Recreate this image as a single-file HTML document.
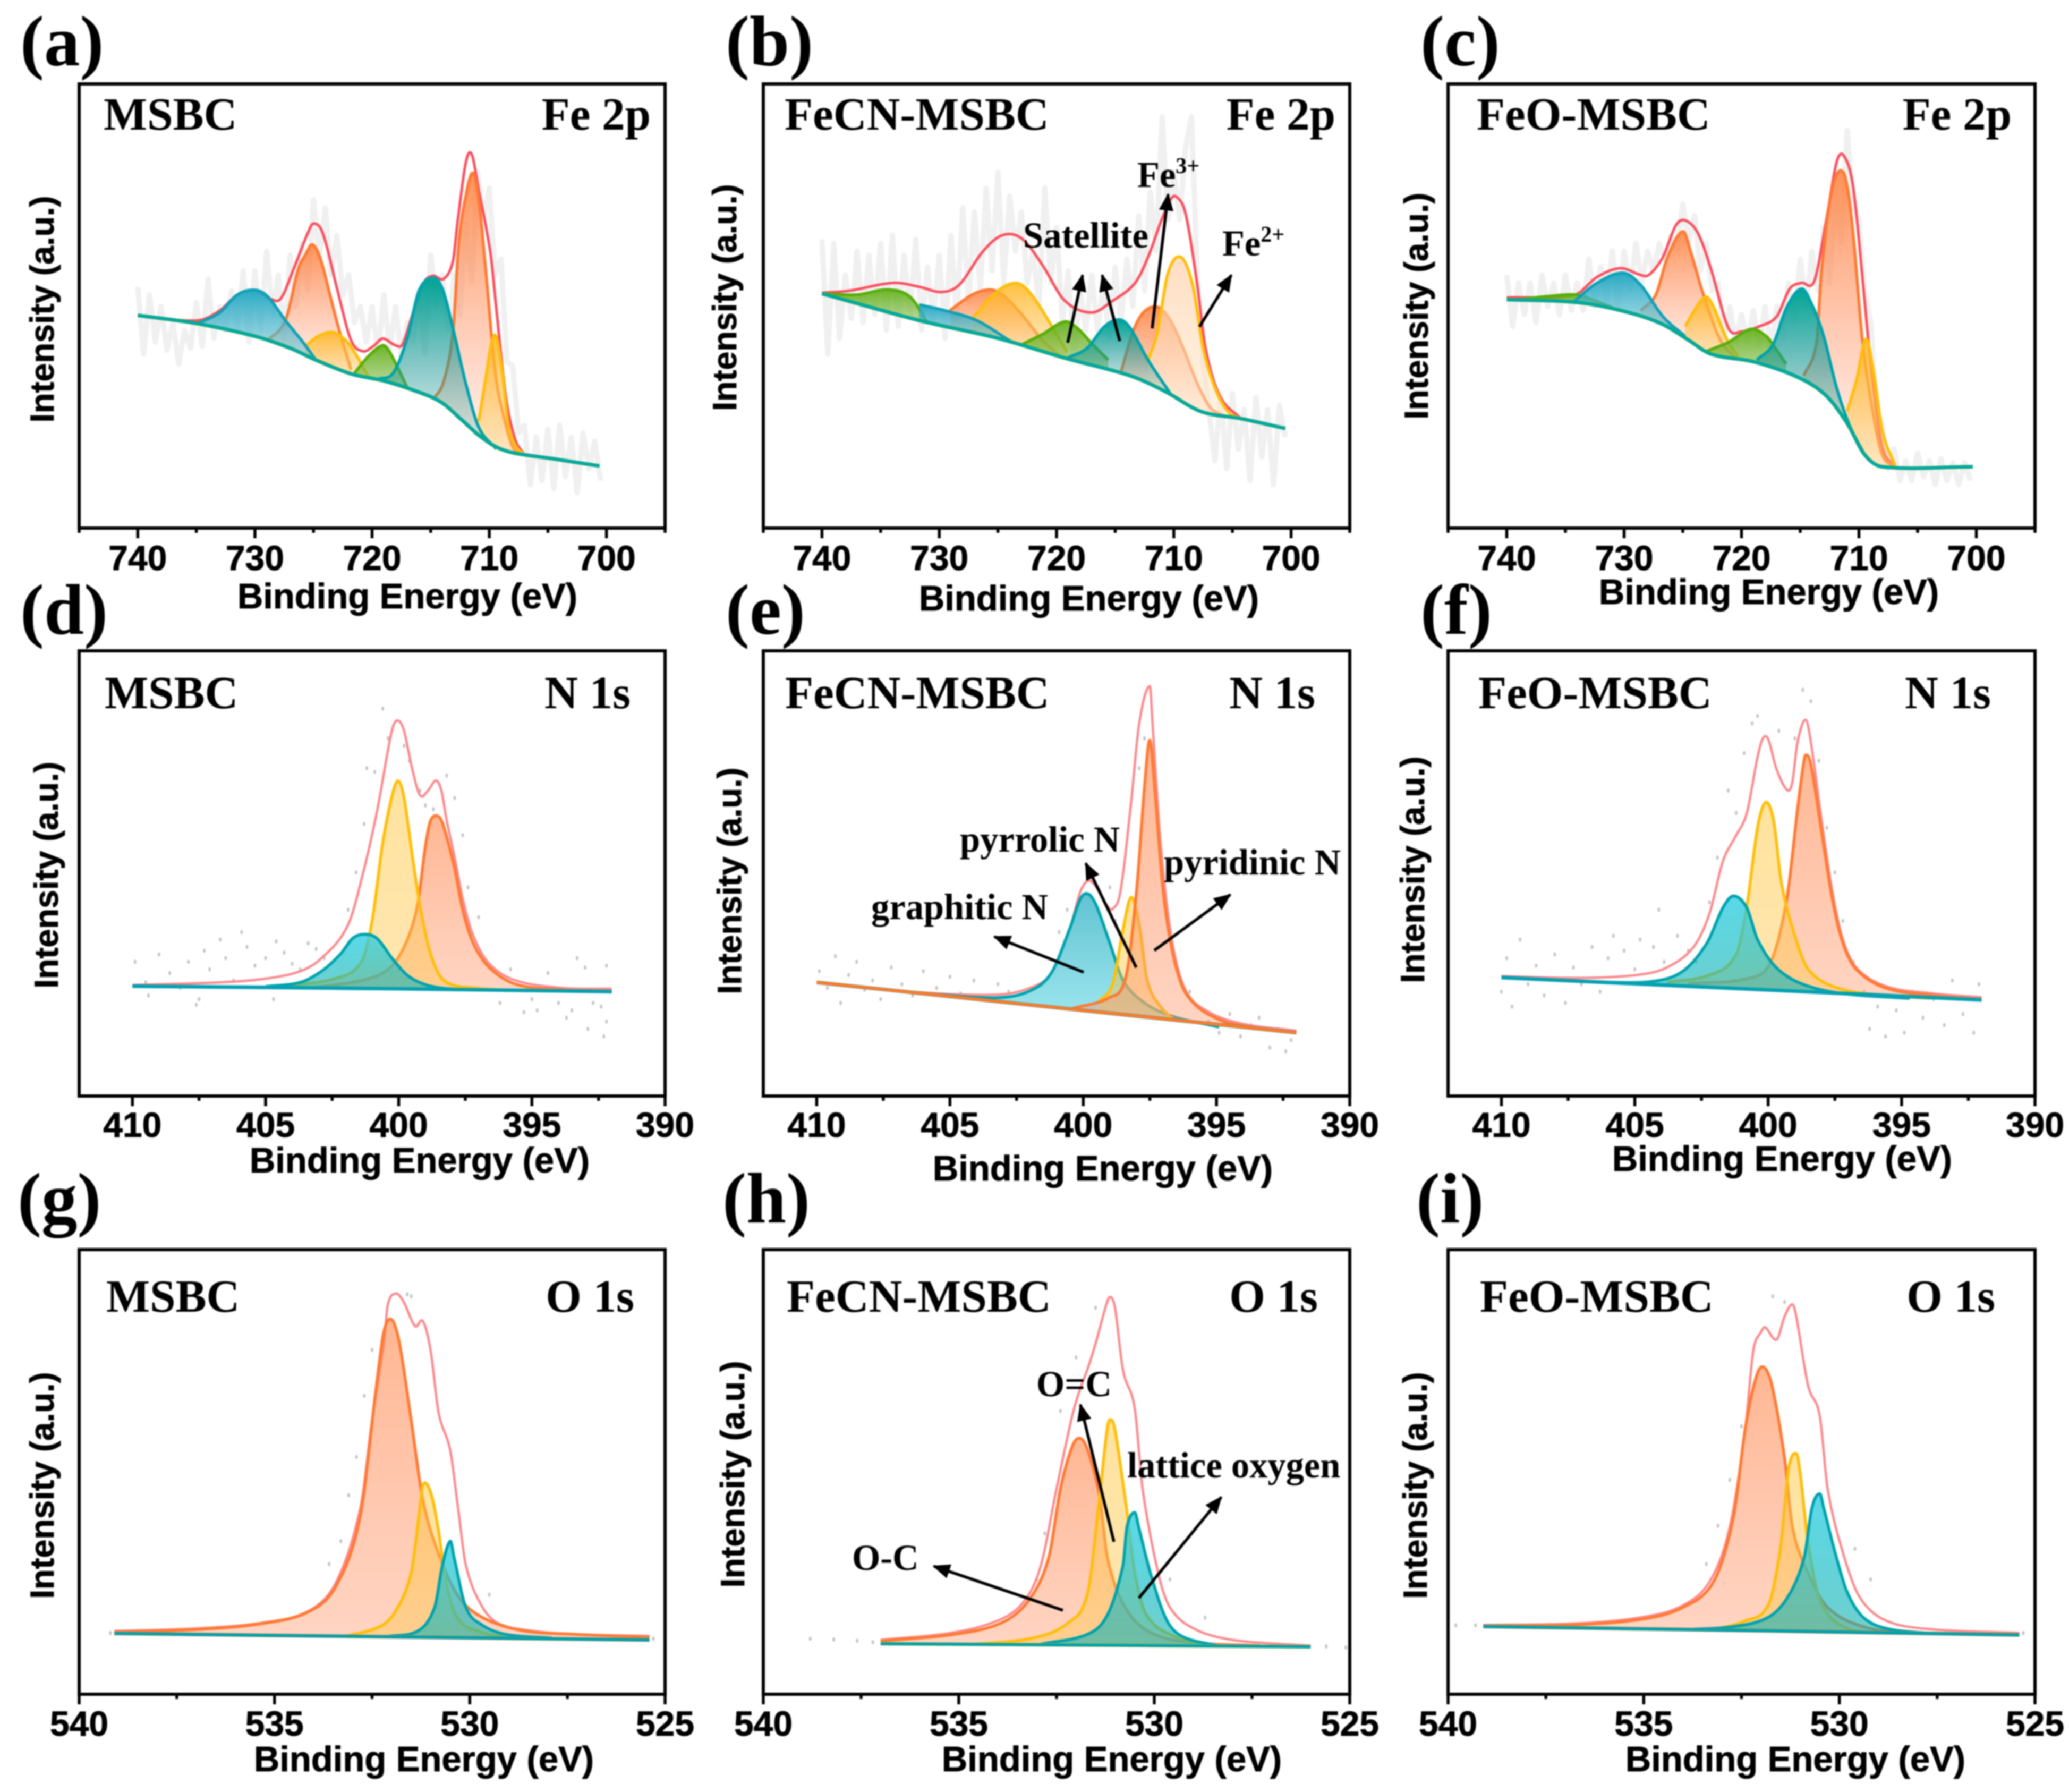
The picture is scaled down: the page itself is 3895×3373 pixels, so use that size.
<!DOCTYPE html>
<html lang="en">
<head>
<meta charset="utf-8">
<title>XPS spectra of MSBC, FeCN-MSBC and FeO-MSBC</title>
<style>
html,body{margin:0;padding:0;background:#fff;}
svg{display:block;filter:blur(1.3px);}
.serif{font-family:"Liberation Serif",serif;font-weight:700;fill:#000;}
.sans{font-family:"Liberation Sans",sans-serif;font-weight:700;fill:#000;stroke:#000;stroke-width:.8;}
.letter{font-size:135px;}
.title{font-size:87px;}
.note{font-size:68.5px;}
.sup{font-size:42px;}
.xlabel{font-size:67px;text-anchor:middle;}
.ylabel{font-size:63px;text-anchor:middle;}
.tick{font-size:66px;text-anchor:middle;}
.frame{fill:none;stroke:#000;stroke-width:6;}
.arrow{stroke:#000;stroke-width:5.5;fill:none;marker-end:url(#arrowhead);}
</style>
</head>
<body>
<svg xmlns="http://www.w3.org/2000/svg" width="3895" height="3373" viewBox="0 0 3895 3373">
<defs>
<marker id="arrowhead" markerUnits="strokeWidth" markerWidth="6" markerHeight="5" refX="5.5" refY="2.5" orient="auto"><path d="M0,0 L6,2.5 L0,5 Z" fill="#000"/></marker>
<linearGradient id="g-orange" x1="0" y1="0" x2="0" y2="1"><stop offset="0" stop-color="#ff7f3a" stop-opacity=".85"/><stop offset="1" stop-color="#ff9a78" stop-opacity=".12"/></linearGradient>
<linearGradient id="g-yellow" x1="0" y1="0" x2="0" y2="1"><stop offset="0" stop-color="#ffb41e" stop-opacity=".85"/><stop offset="1" stop-color="#ffd27a" stop-opacity=".4"/></linearGradient>
<linearGradient id="g-pale" x1="0" y1="0" x2="0" y2="1"><stop offset="0" stop-color="#ffcfa8" stop-opacity=".7"/><stop offset="1" stop-color="#ffe8c8" stop-opacity=".5"/></linearGradient>
<linearGradient id="g-blue" x1="0" y1="0" x2="0" y2="1"><stop offset="0" stop-color="#1ea6c2" stop-opacity=".95"/><stop offset="1" stop-color="#6fc4d4" stop-opacity=".5"/></linearGradient>
<linearGradient id="g-teal" x1="0" y1="0" x2="0" y2="1"><stop offset="0" stop-color="#00a596" stop-opacity="1"/><stop offset=".5" stop-color="#209a98" stop-opacity=".55"/><stop offset="1" stop-color="#4aa8a8" stop-opacity=".15"/></linearGradient>
<linearGradient id="g-green" x1="0" y1="0" x2="0" y2="1"><stop offset="0" stop-color="#5cae10" stop-opacity=".9"/><stop offset="1" stop-color="#8fc060" stop-opacity=".6"/></linearGradient>
<linearGradient id="g-flat-orange" x1="0" y1="0" x2="0" y2="1"><stop offset="0" stop-color="#ff8a50" stop-opacity=".62"/><stop offset="1" stop-color="#ff9a70" stop-opacity=".42"/></linearGradient>
<linearGradient id="g-flat-yellow" x1="0" y1="0" x2="0" y2="1"><stop offset="0" stop-color="#ffc63c" stop-opacity=".5"/><stop offset="1" stop-color="#ffc850" stop-opacity=".45"/></linearGradient>
<linearGradient id="g-flat-teal" x1="0" y1="0" x2="0" y2="1"><stop offset="0" stop-color="#30d0e4" stop-opacity=".8"/><stop offset="1" stop-color="#10b0b0" stop-opacity=".6"/></linearGradient>
<linearGradient id="g-pale-cyan" x1="0" y1="0" x2="0" y2="1"><stop offset="0" stop-color="#4fbccb" stop-opacity=".9"/><stop offset="1" stop-color="#8fe4ee" stop-opacity=".85"/></linearGradient>
</defs>
<rect x="0" y="0" width="3895" height="3373" fill="#fff"/>

<g>
<text class="serif letter" x="38" y="123">(a)</text>
<text class="serif title" x="195" y="244">MSBC</text>
<text class="serif title" x="1225" y="244" text-anchor="end">Fe 2p</text>
<text class="sans xlabel" x="767" y="1145">Binding Energy (eV)</text>
<text class="sans ylabel" transform="translate(101 582) rotate(-90)">Intensity (a.u.)</text>
</g>
<g>
<text class="serif letter" x="1366" y="123">(b)</text>
<text class="serif title" x="1477" y="244">FeCN-MSBC</text>
<text class="serif title" x="2514" y="244" text-anchor="end">Fe 2p</text>
<text class="sans xlabel" x="2050" y="1149">Binding Energy (eV)</text>
<text class="sans ylabel" transform="translate(1386 560) rotate(-90)">Intensity (a.u.)</text>
</g>
<g>
<text class="serif letter" x="2674" y="123">(c)</text>
<text class="serif title" x="2780" y="244">FeO-MSBC</text>
<text class="serif title" x="3787" y="244" text-anchor="end">Fe 2p</text>
<text class="sans xlabel" x="3330" y="1137">Binding Energy (eV)</text>
<text class="sans ylabel" transform="translate(2688 576) rotate(-90)">Intensity (a.u.)</text>
</g>
<g>
<text class="serif letter" x="38" y="1193">(d)</text>
<text class="serif title" x="197" y="1333">MSBC</text>
<text class="serif title" x="1187" y="1333" text-anchor="end">N 1s</text>
<text class="sans xlabel" x="790" y="2207">Binding Energy (eV)</text>
<text class="sans ylabel" transform="translate(109 1647) rotate(-90)">Intensity (a.u.)</text>
</g>
<g>
<text class="serif letter" x="1366" y="1193">(e)</text>
<text class="serif title" x="1478" y="1333">FeCN-MSBC</text>
<text class="serif title" x="2476" y="1333" text-anchor="end">N 1s</text>
<text class="sans xlabel" x="2076" y="2222">Binding Energy (eV)</text>
<text class="sans ylabel" transform="translate(1395 1658) rotate(-90)">Intensity (a.u.)</text>
</g>
<g>
<text class="serif letter" x="2674" y="1193">(f)</text>
<text class="serif title" x="2783" y="1333">FeO-MSBC</text>
<text class="serif title" x="3748" y="1333" text-anchor="end">N 1s</text>
<text class="sans xlabel" x="3355" y="2204">Binding Energy (eV)</text>
<text class="sans ylabel" transform="translate(2681 1637) rotate(-90)">Intensity (a.u.)</text>
</g>
<g>
<text class="serif letter" x="33" y="2301">(g)</text>
<text class="serif title" x="200" y="2469">MSBC</text>
<text class="serif title" x="1194" y="2469" text-anchor="end">O 1s</text>
<text class="sans xlabel" x="798" y="3334">Binding Energy (eV)</text>
<text class="sans ylabel" transform="translate(101 2796) rotate(-90)">Intensity (a.u.)</text>
</g>
<g>
<text class="serif letter" x="1360" y="2301">(h)</text>
<text class="serif title" x="1481" y="2469">FeCN-MSBC</text>
<text class="serif title" x="2481" y="2469" text-anchor="end">O 1s</text>
<text class="sans xlabel" x="2093" y="3334">Binding Energy (eV)</text>
<text class="sans ylabel" transform="translate(1401 2775) rotate(-90)">Intensity (a.u.)</text>
</g>
<g>
<text class="serif letter" x="2666" y="2301">(i)</text>
<text class="serif title" x="2786" y="2469">FeO-MSBC</text>
<text class="serif title" x="3756" y="2469" text-anchor="end">O 1s</text>
<text class="sans xlabel" x="3380" y="3334">Binding Energy (eV)</text>
<text class="sans ylabel" transform="translate(2686 2796) rotate(-90)">Intensity (a.u.)</text>
</g>

<g id="plots"></g>

<g>
<text class="serif note" x="1926" y="466">Satellite</text>
<text class="serif note" x="2141" y="352">Fe<tspan class="sup" dy="-26">3+</tspan></text>
<text class="serif note" x="2301" y="481">Fe<tspan class="sup" dy="-26">2+</tspan></text>
<line class="arrow" x1="2010" y1="645" x2="2038" y2="518"/>
<line class="arrow" x1="2108" y1="642" x2="2075" y2="518"/>
<line class="arrow" x1="2169" y1="618" x2="2199" y2="366"/>
<line class="arrow" x1="2258" y1="615" x2="2318" y2="518"/>
</g>
<g>
<text class="serif note" x="1640" y="1730">graphitic N</text>
<text class="serif note" x="1807" y="1603">pyrrolic N</text>
<text class="serif note" x="2191" y="1646">pyridinic N</text>
<line class="arrow" x1="2040" y1="1830" x2="1872" y2="1763"/>
<line class="arrow" x1="2139" y1="1821" x2="2044" y2="1625"/>
<line class="arrow" x1="2173" y1="1789" x2="2316" y2="1684"/>
</g>
<g>
<text class="serif note" x="1951" y="2628">O=C</text>
<text class="serif note" x="1604" y="2955">O-C</text>
<text class="serif note" x="2122" y="2781">lattice oxygen</text>
<line class="arrow" x1="2097" y1="2902" x2="2034" y2="2644"/>
<line class="arrow" x1="2001" y1="3031" x2="1758" y2="2948"/>
<line class="arrow" x1="2144" y1="3008" x2="2299" y2="2818"/>
</g>
</svg>

<script>
// ---------- tick values ----------
const feTickValues=[745,740,735,730,725,720,715,710,705,700,695];
const feTickLabels=[740,730,720,710,700];
const nTickValues=[410,407.5,405,402.5,400,397.5,395,392.5,390];
const nTickLabels=[410,405,400,395,390];
const oTickValues=[540,537.5,535,532.5,530,527.5,525];
const oTickLabels=[540,535,530,525];

// ---------- Fe 2p raw-scan energies ----------
const feNoiseEnergy=[740,739.5,739,738.5,738,737.5,737,736.5,736,735.5,735,734.5,734,733.5,733,732.5,732,731.5,731,730.5,730,729.5,729,728.5,728,727.5,727,726.5,726,725.5,725,724.5,724,723.5,723,722.5,722,721.5,721,720.5,720,719.5,719,718.5,718,717.5,717,716.5,716,715.5,715,714.5,714,713.5,713,712.5,712,711.5,711,710.5,710,709.5,709,708.5,708,707.5,707,706.5,706,705.5,705,704.5,704,703.5,703,702.5,702,701.5,701,700.5];

// ---------- panel a : MSBC Fe 2p ----------
const aNoise=[610,440,590,470,560,450,520,415,500,455,570,460,630,480,560,500,600,510,650,470,650,500,700,540,640,480,690,560,720,600,830,680,810,640,740,590,640,520,560,470,560,440,590,450,560,430,520,470,600,440,690,560,640,500,640,540,770,620,900,780,860,640,680,420,410,240,260,110,230,120,250,100,260,130,230,90,240,150,220,120];
const aBackground=[[740,538],[734.9,517],[730,485],[727,455],[724.8,425],[721.8,390],[719.1,373],[716.9,353],[714.2,320],[712.4,275],[710.9,235],[709.4,205],[707.9,190],[704.5,175],[700.6,157]];
const aPeakBlue=[[734.9,517],[733,545],[731.5,590],[730,602],[728.9,585],[727.4,525],[725.9,470],[724.8,425]];
const aPeakOrange1=[[728.9,475],[727.4,525],[726.3,655],[725.7,690],[725.1,717],[724.4,680],[723.6,590],[722.9,510],[721.8,400]];
const aPeakYellow1=[[725.7,460],[724.6,485],[723.3,495],[722.1,470],[721.2,430],[720.3,381]];
const aPeakGreen=[[721.5,392],[720.3,435],[719.1,462],[718.6,450],[717.8,405],[717,355]];
const aPeakTeal=[[719.5,377],[718.2,392],[717,480],[716,600],[714.8,633],[714,605],[713.1,505],[712,365],[710.9,255],[709.4,200]];
const aPeakOrange2=[[714.8,325],[713.9,370],[713.1,495],[712.6,720],[712,840],[711.4,898],[710.9,830],[710.3,650],[709.5,395],[708.8,285],[708,205],[707.3,190]];
const aPeakYellow2=[[710.9,270],[710.3,380],[709.8,470],[709.4,483],[708.9,395],[708.4,265],[707.8,210],[707.1,188]];
const aEnvelope=[[740,538],[734.9,525],[733,550],[731.5,590],[730,602],[728.7,580],[727.8,580],[726.7,655],[725.5,745],[725,770],[724.2,745],[722.9,595],[721.8,475],[720.8,447],[719.9,460],[719.1,479],[718,462],[717.4,465],[716.5,545],[715.6,620],[714.8,638],[713.9,630],[713.1,675],[712.7,775],[712,925],[711.5,945],[710.9,855],[709.9,695],[709.4,555],[708.6,335],[707.8,225],[707.1,190]];

// ---------- panel b : FeCN-MSBC Fe 2p ----------
const bNoise=[730,440,720,480,640,530,700,520,690,540,720,500,740,510,690,540,730,500,660,520,690,480,740,530,810,570,800,600,860,650,900,620,840,700,800,620,700,560,860,620,760,520,650,430,600,500,640,500,620,480,660,520,680,560,790,600,850,700,1040,780,900,780,960,1040,640,420,300,170,340,150,340,200,300,120,330,180,300,110,310,230];
const bBackground=[[740,593],[731.7,525],[725,480],[719.3,430],[713.7,385],[710.7,345],[707.7,295],[704.3,277],[700.5,252]];
const bPeakGreen1=[[740,593],[737,590],[734.4,603],[732.5,585],[731,520]];
const bPeakBlue=[[731.7,565],[729.5,550],[726.8,525],[723.8,470]];
const bPeakOrange1=[[729.1,550],[727.2,590],[725.7,603],[724.6,590],[723.1,545],[721.2,475],[719.7,435]];
const bPeakYellow1=[[727.2,530],[725,600],[723.3,619],[722,585],[720.3,505],[719.1,445]];
const bPeakGreen2=[[722.9,465],[721.2,490],[719.3,522],[718.2,505],[717.1,470],[715.6,425]];
const bPeakTeal=[[719.1,430],[717.4,455],[715.9,510],[714.6,527],[713.7,505],[712.2,425],[710.3,340]];
const bPeakOrange2=[[714.5,395],[713.5,495],[712.6,545],[711.4,559],[710.3,525],[709.2,455],[708,365],[706.9,305],[705.8,285]];
const bPeakYellow2=[[712.2,425],[711.4,495],[710.5,645],[709.4,685],[708.4,615],[707.5,455],[706.5,355],[705.4,295],[704.3,277]];
const bEnvelope=[[740,595],[737.7,600],[733.9,620],[731.7,610],[729.8,597],[728.3,615],[726.4,695],[725,735],[723.8,743],[722.7,725],[721.2,665],[719.3,575],[717,545],[715.2,575],[713.3,620],[712.2,685],[711.1,775],[710.3,830],[709.8,838],[709,795],[708,615],[707.3,455],[706.1,335],[704.3,277]];

// ---------- panel c : FeO-MSBC Fe 2p ----------
const cNoise=[640,510,620,540,620,520,640,560,620,540,640,550,620,550,680,560,660,580,700,560,700,600,720,620,700,650,720,680,740,700,820,720,790,650,720,600,620,480,560,470,540,470,550,460,560,450,560,480,620,520,680,560,700,600,760,620,850,720,1005,820,780,600,520,300,260,150,200,120,170,120,190,130,170,110,175,120,165,110,165,120];
const cBackground=[[740,578],[733.8,570],[729.6,545],[726.7,515],[724.5,475],[722.6,440],[718.9,420],[715.1,380],[712.8,335],[711,265],[709.5,185],[708,155],[700.3,155]];
const cPeakGreen1=[[739,578],[736.5,586],[734,590],[732.5,575],[731,558]];
const cPeakBlue=[[734.2,575],[732.3,620],[730.1,645],[728.6,615],[726.7,535],[724.8,485]];
const cPeakOrange1=[[728.6,550],[727.3,590],[726.3,685],[725,750],[724.3,695],[723.3,595],[721.8,475],[720.3,425]];
const cPeakYellow1=[[724.8,510],[723.7,565],[723,585],[722.4,560],[721.3,480],[720.3,435]];
const cPeakGreen2=[[723,447],[721.1,470],[719.2,503],[717.9,485],[717,450],[716.2,415]];
const cPeakTeal=[[718.7,425],[717.3,465],[716.2,555],[714.9,605],[714,565],[713,485],[711.9,355],[710.8,260],[709.5,185]];
const cPeakOrange2=[[714.7,385],[713.6,470],[713.2,645],[712.3,855],[711.3,898],[710.6,775],[709.7,475],[708.7,275],[708,185],[707,155]];
const cPeakYellow2=[[711,295],[710.2,375],[709.4,478],[708.7,385],[708,245],[706.9,157]];
const cEnvelope=[[740,583],[734.2,590],[732.3,635],[730.3,657],[728.6,640],[727.9,640],[726.7,685],[725.6,765],[724.8,778],[723.7,745],[722.6,655],[721.1,505],[720,497],[718.5,510],[717,535],[715.9,605],[714.9,620],[713.8,625],[712.8,775],[711.9,925],[711.3,942],[710.5,865],[709.7,635],[708.9,385],[708,205],[706.9,157]];

// ---------- panel d : MSBC N 1s ----------
const dDots=[[409.9,360],[409.5,305],[409.4,270],[409,380],[408.6,330],[408.2,290],[407.9,360],[407.6,245],[407.5,260],[407.3,390],[407.1,340],[406.7,420],[406.5,370],[406.2,310],[405.9,440],[405.7,400],[405.4,350],[405,370],[404.7,260],[404.6,415],[404.3,385],[404,355],[403.7,340],[403.4,410],[403.1,395],[402.8,370],[401.9,500],[401.6,600],[401.3,730],[401.2,880],[400.9,870],[400.6,1040],[400.4,960],[399.8,940],[399.6,900],[399.2,820],[399,780],[398.7,770],[398.2,860],[397.9,800],[397.6,700],[397.4,560],[397,480],[396.5,340],[396.2,250],[395.8,340],[395.3,225],[395,260],[394.8,230],[394.4,330],[394,250],[393.7,210],[393.5,230],[393.3,370],[393,345],[392.9,180],[392.7,250],[392.4,240],[392.3,160],[392.2,350],[392.2,200]];
const dBackground=[[410,295],[400.1,288],[392,280]];
const dPeakOrange=[[403.4,290],[401.4,310],[400.4,340],[399.8,400],[399.3,510],[399,670],[398.8,740],[398.5,750],[398.3,720],[397.9,610],[397.6,500],[397.2,410],[396.6,345],[395.6,300],[393.8,285],[392,282]];
const dPeakYellow=[[404.4,295],[402.4,315],[401.4,360],[401,470],[400.6,680],[400.2,820],[400,845],[399.8,800],[399.5,650],[399.2,510],[398.8,380],[398.3,310],[397.1,290],[395.1,282]];
const dPeakTeal=[[405,294],[403.7,305],[402.9,335],[402.2,380],[401.7,425],[401.2,434],[400.8,422],[400.2,365],[399.6,320],[398.8,295],[397.6,285]];
const dEnvelope=[[410,298],[406.7,305],[405,315],[403.7,335],[402.9,370],[401.9,460],[401.3,610],[400.8,770],[400.4,930],[400.2,995],[400,1007],[399.8,980],[399.5,880],[399.2,807],[398.9,820],[398.6,847],[398.4,820],[398.2,740],[397.9,640],[397.6,530],[397.2,430],[396.6,355],[395.6,310],[393.8,290],[392,288]];

// ---------- panel e : FeCN-MSBC N 1s ----------
const eDots=[[409.9,335],[409.6,290],[409.3,375],[409.1,250],[408.8,325],[408.5,360],[408.2,285],[407.9,310],[407.6,260],[407.2,345],[406.8,300],[406.4,270],[406,335],[405.5,290],[405,320],[404.6,275],[404.1,310],[403.7,265],[403.2,300],[402.8,280],[400.9,440],[400.6,500],[399,560],[398.8,470],[397.9,880],[397.7,960],[396,280],[395.3,200],[394.9,170],[394.5,220],[394.1,160],[393.7,190],[393.4,210],[393,130],[392.7,180],[392.4,120],[392.2,150]];
const eBackground=[[410,305],[401.5,241],[392,170]];
const ePeakTeal=[[405.5,272],[403.2,264],[402,282],[401.2,330],[400.5,450],[400.1,530],[399.8,542],[399.5,510],[399,410],[398.5,310],[397.7,250],[396.7,215],[394.9,185]];
const ePeakYellow=[[399.4,255],[398.9,300],[398.5,450],[398.2,533],[397.9,460],[397.6,310],[397.1,240],[396.6,205]];
const ePeakOrange=[[400.4,235],[399,265],[398.4,320],[398,550],[397.7,830],[397.5,955],[397.3,810],[397,550],[396.6,370],[396.1,270],[394.9,205],[393.3,180]];
const eEnvelope=[[410,305],[406.5,280],[403.2,272],[402,290],[401.2,330],[400.5,450],[400.1,550],[399.8,578],[399.5,560],[399.1,510],[398.9,502],[398.6,550],[398.2,790],[397.9,1000],[397.5,1100],[397.4,1000],[397.1,680],[396.7,430],[396.2,290],[395.4,230],[394.1,195],[392,175]];

// ---------- panel f : FeO-MSBC N 1s ----------
const fDots=[[410,280],[409.8,370],[409.6,240],[409.3,420],[409,300],[408.7,350],[408.4,270],[408,380],[407.6,250],[407.3,345],[407,300],[406.6,400],[406.3,280],[406,370],[405.8,430],[405.4,390],[405,340],[404.8,420],[404.3,400],[404.1,500],[403.9,360],[403.4,430],[403,390],[402.7,360],[402.2,520],[401.9,640],[401.5,820],[401.2,760],[400.9,920],[400.6,1000],[400.4,1020],[399.6,980],[399,960],[398.7,1090],[398.4,1060],[398.1,900],[397.8,720],[397.5,600],[397.2,470],[396.8,360],[396.4,280],[396.2,180],[395.9,240],[395.6,160],[395.2,230],[394.9,170],[394.6,280],[394.2,210],[393.8,260],[393.4,190],[393.1,310],[392.7,220],[392.3,170],[392.1,300]];
const fBackground=[[410,318],[401,288],[392,258]];
const fPeakOrange=[[403,302],[400.8,315],[399.9,360],[399.3,530],[398.9,770],[398.7,880],[398.6,915],[398.4,890],[398,710],[397.6,530],[397.2,410],[396.7,340],[395.6,290],[393.8,270],[392,260]];
const fPeakYellow=[[403.8,305],[402.2,325],[401.2,380],[400.8,510],[400.4,720],[400.1,788],[399.8,740],[399.5,570],[399,430],[398.5,340],[397.4,290],[395.6,270],[393.9,262]];
const fPeakTeal=[[406,305],[404.3,308],[403.2,335],[402.3,410],[401.7,505],[401.3,537],[400.8,505],[400.4,420],[399.7,345],[398.7,300],[397.2,275],[394.7,262]];
const fEnvelope=[[410,322],[407.1,317],[404.9,325],[403.8,345],[402.8,400],[402.2,490],[401.7,630],[401.2,700],[400.8,760],[400.4,910],[400.2,960],[400,958],[399.7,880],[399.3,822],[399.1,840],[398.9,950],[398.6,1010],[398.4,950],[398,740],[397.6,550],[397.2,420],[396.7,345],[395.6,295],[393.8,275],[392,265]];

// ---------- panel g : MSBC O 1s ----------
const gDots=[[539.2,160],[538.8,160],[533.6,340],[533.3,400],[533.1,520],[532.9,620],[532.7,780],[532.5,900],[531.6,1045],[531.5,1040],[530,170],[529.5,260],[525.3,145]];
const gBackground=[[539.1,159],[532,150],[525.4,142]];
const gPeakOrange=[[539.1,162],[537,169],[535.3,185],[534.1,217],[533.4,287],[532.8,467],[532.4,797],[532.2,947],[532,979],[531.8,917],[531.5,717],[531.2,507],[530.8,367],[530.3,257],[529.7,202],[528.7,167],[527.4,157],[525.4,149]];
const gPeakYellow=[[533.2,151],[532.3,177],[531.9,217],[531.5,317],[531.3,467],[531.2,547],[531,527],[530.8,427],[530.6,287],[530.3,197],[529.7,162],[529.1,149]];
const gPeakTeal=[[532.1,151],[531.3,167],[530.9,227],[530.7,337],[530.5,400],[530.4,357],[530.1,227],[529.7,182],[529.1,157],[527.9,147]];
const gEnvelope=[[539.1,165],[537,172],[535.3,187],[534.1,219],[533.4,297],[532.8,487],[532.5,717],[532.2,917],[532.1,1017],[531.9,1047],[531.7,1027],[531.4,962],[531.2,975],[531,897],[530.8,737],[530.5,637],[530.3,487],[530.1,337],[529.7,232],[529.3,187],[528.5,167],[527.4,157],[525.4,152]];

// ---------- panel h : FeCN-MSBC O 1s ----------
const hDots=[[538.8,145],[538.2,143],[537.6,140],[537.2,136],[533,300],[532.8,420],[532.4,740],[532,880],[531.5,1010],[529.6,300],[528.7,200],[525.6,125],[525.1,122]];
const hBackground=[[537,132],[531,128],[526,124]];
const hPeakOrange=[[537,139],[535.1,157],[533.9,187],[533.2,247],[532.7,357],[532.4,537],[532.1,647],[531.9,669],[531.7,637],[531.4,517],[531.2,357],[530.8,237],[530.2,167],[529.2,137],[527.3,127]];
const hPeakYellow=[[534.6,131],[533.1,147],[532.2,187],[531.7,267],[531.4,517],[531.2,697],[531.1,717],[531,687],[530.7,477],[530.5,317],[530.2,207],[529.5,152],[528.6,128]];
const hPeakTeal=[[532.9,131],[531.7,157],[531.2,207],[530.8,337],[530.7,437],[530.5,475],[530.4,437],[530.1,317],[529.7,197],[529.3,152],[528.4,127]];
const hEnvelope=[[537,142],[535.1,162],[533.9,197],[533.3,247],[532.9,337],[532.5,537],[532.1,727],[531.9,797],[531.7,852],[531.5,917],[531.2,1027],[531.1,1037],[531,1007],[530.8,847],[530.5,747],[530.3,537],[529.9,317],[529.6,227],[529,172],[528,142],[526,127]];

// ---------- panel i : FeO-MSBC O 1s ----------
const iDots=[[539.8,180],[539.3,180],[533.4,340],[533.1,440],[532.8,560],[532.5,700],[531.7,1040],[531.4,1025],[529.6,380],[529.2,300],[525.3,160]];
const iBackground=[[539.1,177],[532,166],[525.4,155]];
const iPeakOrange=[[539.1,179],[536.7,182],[535,197],[534,227],[533.2,297],[532.7,467],[532.4,697],[532.1,837],[531.9,852],[531.7,797],[531.4,617],[531.2,437],[530.8,317],[530.3,227],[529.4,177],[528.3,162],[525.4,157]];
const iPeakYellow=[[533.3,167],[532.4,192],[531.8,237],[531.5,387],[531.3,587],[531.1,629],[531,577],[530.8,397],[530.5,247],[529.9,177],[529,159]];
const iPeakTeal=[[533.9,169],[532.7,177],[531.8,202],[531.3,257],[530.9,357],[530.7,487],[530.5,524],[530.4,487],[530.1,367],[529.8,267],[529.4,202],[528.8,172],[527.7,159]];
const iEnvelope=[[539.1,181],[536.7,185],[535,202],[534,232],[533.3,297],[532.8,437],[532.4,697],[532.2,897],[532,947],[531.9,959],[531.6,927],[531.4,987],[531.2,1019],[531.1,987],[530.8,807],[530.5,727],[530.3,537],[529.9,367],[529.5,257],[528.9,197],[527.9,172],[525.4,160]];

// ---------- panel layout (not data) ----------
const COLORS={orange:'#ff7a33',yellow:'#ffbe0a',teal:'#00a2ad',blue:'#10a0b8',green:'#58ad0a'};
const FE={xDomain:[745,695],yMax:1123,ticks:feTickValues,labels:feTickLabels,env:'#fb4f5e',envW:5,tickRowY:1073};
const NN={xDomain:[412,390],yMax:1195,ticks:nTickValues,labels:nTickLabels,env:'#fb8a8e',envW:4.5,tickRowY:2140};
const OO={xDomain:[540,525],yMax:1162,ticks:oTickValues,labels:oTickLabels,env:'#fb8a8e',envW:4.5,tickRowY:3267};
const COLS=[[149,1252],[1437,2541],[2726,3831]];
const ROWS=[[158,994],[1225,2063],[2352,3189]];

const panels=[
 {id:'a',kind:FE,col:0,row:0,noise:aNoise,bg:aBackground,bgColors:['#58ad0a','#00a8a8'],peaks:[[aPeakOrange1,'orange','g-orange'],[aPeakYellow1,'yellow','g-yellow'],[aPeakGreen,'green','g-green'],[aPeakBlue,'blue','g-blue'],[aPeakOrange2,'orange','g-orange'],[aPeakYellow2,'yellow','g-yellow'],[aPeakTeal,'teal','g-teal']],env:aEnvelope},
 {id:'b',kind:FE,col:1,row:0,noise:bNoise,bg:bBackground,bgColors:['#58ad0a','#00a8a8'],peaks:[[bPeakGreen1,'green','g-green'],[bPeakOrange1,'orange','g-orange'],[bPeakYellow1,'yellow','g-yellow'],[bPeakBlue,'blue','g-blue'],[bPeakGreen2,'green','g-green'],[bPeakOrange2,'orange','g-orange'],[bPeakYellow2,'yellow','g-pale'],[bPeakTeal,'teal','g-teal']],env:bEnvelope},
 {id:'c',kind:FE,col:2,row:0,noise:cNoise,bg:cBackground,bgColors:['#58ad0a','#00a8a8'],peaks:[[cPeakGreen1,'green','g-green'],[cPeakOrange1,'orange','g-orange'],[cPeakYellow1,'yellow','g-yellow'],[cPeakGreen2,'green','g-green'],[cPeakBlue,'blue','g-blue'],[cPeakOrange2,'orange','g-orange'],[cPeakYellow2,'yellow','g-yellow'],[cPeakTeal,'teal','g-teal']],env:cEnvelope},
 {id:'d',kind:NN,col:0,row:1,dots:dDots,bg:dBackground,bgColors:['#2f9fe0','#00a2ad'],peaks:[[dPeakOrange,'orange','g-flat-orange'],[dPeakYellow,'yellow','g-flat-yellow'],[dPeakTeal,'teal','g-flat-teal']],env:dEnvelope},
 {id:'e',kind:NN,col:1,row:1,dots:eDots,bg:eBackground,bgColors:['#00a2ad','#ff7a2a'],peaks:[[ePeakTeal,'teal','g-pale-cyan'],[ePeakYellow,'yellow','g-flat-yellow'],[ePeakOrange,'orange','g-flat-orange']],env:eEnvelope},
 {id:'f',kind:NN,col:2,row:1,dots:fDots,bg:fBackground,bgColors:['#2f9fe0','#00a2ad'],peaks:[[fPeakOrange,'orange','g-flat-orange'],[fPeakYellow,'yellow','g-flat-yellow'],[fPeakTeal,'teal','g-flat-teal']],env:fEnvelope},
 {id:'g',kind:OO,col:0,row:2,dots:gDots,bg:gBackground,bgColors:['#ff7a2a','#00a2ad'],peaks:[[gPeakOrange,'orange','g-flat-orange'],[gPeakYellow,'yellow','g-flat-yellow'],[gPeakTeal,'teal','g-flat-teal']],env:gEnvelope},
 {id:'h',kind:OO,col:1,row:2,dots:hDots,bg:hBackground,bgColors:['#ffbe0a','#00a2ad'],peaks:[[hPeakOrange,'orange','g-flat-orange'],[hPeakYellow,'yellow','g-flat-yellow'],[hPeakTeal,'teal','g-flat-teal']],env:hEnvelope},
 {id:'i',kind:OO,col:2,row:2,dots:iDots,bg:iBackground,bgColors:['#ff7a2a','#00a2ad'],peaks:[[iPeakOrange,'orange','g-flat-orange'],[iPeakYellow,'yellow','g-flat-yellow'],[iPeakTeal,'teal','g-flat-teal']],env:iEnvelope}
];

// ---------- drawing ----------
const NS='http://www.w3.org/2000/svg';
function mk(tag,attrs,parent){
  const el=document.createElementNS(NS,tag);
  for(const k in attrs){el.setAttribute(k,attrs[k]);}
  parent.appendChild(el);
  return el;
}
function smoothPath(pts,sx,sy){
  const p=pts.map(d=>[sx(d[0]),sy(d[1])]);
  const n=p.length;
  const m=p.map((q,i)=>{
    const a=p[Math.max(i-1,0)],b=p[Math.min(i+1,n-1)];
    return (b[1]-a[1])/((b[0]-a[0])||1);
  });
  let s='M'+p[0][0].toFixed(1)+','+p[0][1].toFixed(1);
  for(let i=0;i<n-1;i++){
    const h=p[i+1][0]-p[i][0];
    s+=' C'+(p[i][0]+h/3).toFixed(1)+','+(p[i][1]+m[i]*h/3).toFixed(1)+' '+(p[i+1][0]-h/3).toFixed(1)+','+(p[i+1][1]-m[i+1]*h/3).toFixed(1)+' '+p[i+1][0].toFixed(1)+','+p[i+1][1].toFixed(1);
  }
  return s;
}
function interp(bg,e){
  for(let i=0;i<bg.length-1;i++){
    if(e<=bg[i][0]&&e>=bg[i+1][0]){
      const t=(bg[i][0]-e)/(bg[i][0]-bg[i+1][0]);
      return bg[i][1]+t*(bg[i+1][1]-bg[i][1]);
    }
  }
  return e>bg[0][0]?bg[0][1]:bg[bg.length-1][1];
}
const root=document.getElementById('plots');
panels.forEach(P=>{
  const [L,R]=COLS[P.col];
  const [T,B]=ROWS[P.row];
  const K=P.kind;
  const sx=e=>L+(K.xDomain[0]-e)/(K.xDomain[0]-K.xDomain[1])*(R-L);
  const sy=v=>B-v/K.yMax*(B-T);
  const g=mk('g',{},root);
  
  

  if(P.noise){
    const d=feNoiseEnergy.map((e,i)=>(i?'L':'M')+sx(e).toFixed(1)+','+sy(P.noise[i]).toFixed(1)).join(' ');
    const raw=mk('path',{d:d,fill:'none',stroke:'#f0f0f0','stroke-width':10,'stroke-linejoin':'round'},g);
    
    
  }
  if(P.dots){
    P.dots.forEach(q=>{
      const dot=mk('ellipse',{cx:sx(q[0]).toFixed(1),cy:sy(q[1]).toFixed(1),rx:2.5,ry:4,fill:'#c4c4c4'},g);
      
      
    });
  }
  const env=mk('path',{d:smoothPath(P.env,sx,sy),fill:'none',stroke:K.env,'stroke-width':K.envW},g);
  
  

  P.peaks.forEach(pk=>{
    const pts=pk[0],col=COLORS[pk[1]],fillId=pk[2];
    const first=pts[0][0],last=pts[pts.length-1][0];
    let d=smoothPath(pts,sx,sy)+' L'+sx(last).toFixed(1)+','+sy(interp(P.bg,last)).toFixed(1);
    for(let i=P.bg.length-1;i>=0;i--){
      const b=P.bg[i];
      if(b[0]>last&&b[0]<first){d+=' L'+sx(b[0]).toFixed(1)+','+sy(b[1]).toFixed(1);}
    }
    d+=' L'+sx(first).toFixed(1)+','+sy(interp(P.bg,first)).toFixed(1)+' Z';
    const area=mk('path',{d:d,fill:'url(#'+fillId+')',stroke:'none'},g);
    
    
    const line=mk('path',{d:smoothPath(pts,sx,sy),fill:'none',stroke:col,'stroke-width':5.5},g);
    
    
  });

  P.bgColors.forEach((c,i)=>{
    const base=mk('path',{d:smoothPath(P.bg,sx,sy),fill:'none',stroke:c,'stroke-width':i?6:7},g);
    
    
  });

  const frame=mk('rect',{x:L,y:T,width:R-L,height:B-T,class:'frame'},g);
  
  

  K.ticks.forEach(t=>{
    const major=K.labels.includes(t);
    const tick=mk('line',{x1:sx(t).toFixed(1),x2:sx(t).toFixed(1),y1:B,y2:B+(major?19:9),stroke:'#000','stroke-width':5.5},g);
    
    
  });
  K.labels.forEach(t=>{
    const txt=mk('text',{x:sx(t).toFixed(1),y:K.tickRowY,class:'sans tick'},g);
    txt.textContent=String(t);
    
    
  });
});
</script>
</body>
</html>
